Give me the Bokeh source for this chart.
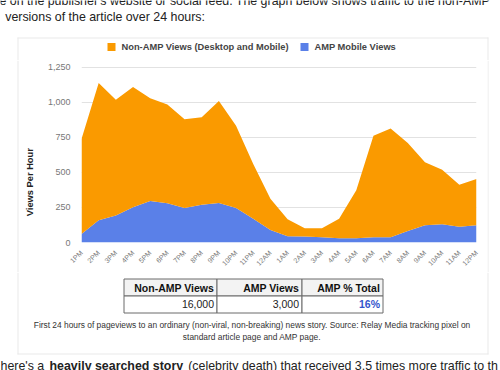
import math
from bokeh.plotting import figure
from bokeh.layouts import column, row
from bokeh.models import ColumnDataSource, Range1d, FixedTicker, NumeralTickFormatter
from bokeh.core.properties import value
from bokeh.embed import file_html
from bokeh.resources import INLINE

# ---------------- data ----------------
hours = ["1PM", "2PM", "3PM", "4PM", "5PM", "6PM", "7PM", "8PM", "9PM", "10PM", "11PM",
         "12AM", "1AM", "2AM", "3AM", "4AM", "5AM", "6AM", "7AM", "8AM", "9AM", "10AM",
         "11AM", "12PM"]
amp_views = [60, 159, 193, 251, 297, 281, 246, 269, 283, 246, 170, 90,
             44, 42, 37, 30, 30, 37, 37, 83, 124, 131, 113, 124]
non_amp_views = [680, 981, 827, 859, 733, 704, 634, 626, 727, 587, 390, 223,
                 122, 59, 64, 140, 343, 725, 778, 628, 449, 389, 299, 329]
y_ticks = [0, 250, 500, 750, 1000, 1250]
series_names = ["Non-AMP Views (Desktop and Mobile)", "AMP Mobile Views"]
y_title = "Views Per Hour"

table_headers = ["Non-AMP Views", "AMP Views", "AMP % Total"]
table_values = ["16,000", "3,000", "16%"]

caption_lines = ["First 24 hours of pageviews to an ordinary (non-viral, non-breaking) news "
                 "story. Source: Relay Media tracking pixel on",
                 "standard article page and AMP page."]
intro_lines = ["e on the publisher's website or social feed. The graph below shows traffic "
               "to the non-AMP",
               "versions of the article over 24 hours:"]
outro_parts = ["here's a", "heavily searched story",
               "(celebrity death) that received 3.5 times more traffic to th"]

ORANGE = "#fa9a00"
BLUE = "#5a80e8"
FONT = "Liberation Sans"
PANEL = "#e9e9e9"


# ------------- helper: a figure whose frame is plain page pixels -------------
class Pix:
    def __init__(self, x0, y0, w, h):
        self.x0, self.y0, self.w, self.h = x0, y0, w, h
        f = figure(width=w, height=h, output_backend="svg", toolbar_location=None,
                   x_range=Range1d(x0, x0 + w), y_range=Range1d(0, h), min_border=0,
                   x_axis_type=None, y_axis_type=None, frame_align=False)
        f.outline_line_color = None
        f.background_fill_color = "white"
        f.border_fill_color = "white"
        self.f = f

    def Y(self, py):
        return self.y0 + self.h - py

    def text(self, px, py, t, size, color="#222222", style="normal", align="left",
             baseline="alphabetic", angle=0.0):
        if baseline == "alphabetic":
            py = py - 0.27 * size  # renderer draws the baseline slightly low
        self.f.text(x=[px], y=[self.Y(py)], text=[t], text_font=value(FONT),
                    text_font_size=value(f"{size}px"), text_color=color,
                    text_font_style=style, text_align=align, text_baseline=baseline,
                    angle=angle)

    def hline(self, xa, xb, py, color=PANEL):
        self.f.segment(x0=[xa], y0=[self.Y(py)], x1=[xb], y1=[self.Y(py)],
                       line_color=color, line_width=1)

    def vline(self, px, ya, yb, color=PANEL):
        self.f.segment(x0=[px], y0=[self.Y(ya)], x1=[px], y1=[self.Y(yb)],
                       line_color=color, line_width=1)

    def box(self, l, t, r, b, fill=None, line=None):
        self.f.quad(left=[l], right=[r], top=[self.Y(t)], bottom=[self.Y(b)],
                    fill_color=fill, fill_alpha=1 if fill else 0,
                    line_color=line, line_width=1 if line else 0)


# ---------------- head: article text, panel top, legend ----------------
head = Pix(0, 0, 500, 60)
head.text(-1, 3.5, intro_lines[0], 12.4)
head.text(4.7, 19.5, intro_lines[1], 12.4)
head.hline(17, 488, 37.5)
head.vline(17.5, 37, 60)
head.vline(487.5, 37, 60)
head.box(107, 42.5, 115, 50.5, fill=ORANGE)
head.text(121, 46.5, series_names[0], 9.3, color="#444444", style="bold", baseline="middle")
head.box(300, 42.5, 308, 50.5, fill=BLUE)
head.text(314, 46.5, series_names[1], 9.3, color="#444444", style="bold", baseline="middle")

# ---------------- chart row ----------------
CH_Y0, CH_H = 60, 212
left = Pix(0, CH_Y0, 40, CH_H)
left.vline(17.5, CH_Y0, CH_Y0 + CH_H)
left.text(29.3, 181.7, y_title, 9.3, color="#222222", style="bold", align="center",
          baseline="middle", angle=math.pi / 2)

right = Pix(487, CH_Y0, 13, CH_H)
right.vline(487.5, CH_Y0, CH_Y0 + CH_H)

src = ColumnDataSource(dict(x=list(range(len(hours))), amp=amp_views, nonamp=non_amp_views))
CW = 447
p = figure(width=CW, height=CH_H, output_backend="svg", toolbar_location=None,
           x_range=Range1d(0, len(hours) - 1), y_range=Range1d(0, 1257),
           min_border_left=41, min_border_right=11, min_border_top=6,
           min_border_bottom=24, frame_align=False)
p.background_fill_color = "white"
p.border_fill_color = "white"
p.outline_line_color = None
p.varea_stack(["amp", "nonamp"], x="x", color=[BLUE, ORANGE], source=src)

p.yaxis.ticker = FixedTicker(ticks=y_ticks)
p.yaxis.formatter = NumeralTickFormatter(format="0,0")
p.yaxis.axis_line_color = None
p.yaxis.major_tick_line_color = None
p.yaxis.minor_tick_line_color = None
p.yaxis.major_label_text_font = FONT
p.yaxis.major_label_text_font_size = "9px"
p.yaxis.major_label_text_color = "#777777"
p.yaxis.major_label_standoff = 5

p.xaxis.ticker = FixedTicker(ticks=list(range(len(hours))))
p.xaxis.major_label_overrides = {i: h for i, h in enumerate(hours)}
p.xaxis.major_label_orientation = math.pi / 4
p.xaxis.axis_line_color = None
p.xaxis.major_tick_line_color = None
p.xaxis.minor_tick_line_color = None
p.xaxis.major_label_text_font = FONT
p.xaxis.major_label_text_font_size = "7px"
p.xaxis.major_label_text_color = "#777777"
p.xaxis.major_label_standoff = 3

p.xgrid.grid_line_color = None
p.ygrid.grid_line_color = "#e2e2e2"

# ---------------- foot: table, caption, panel bottom, article text ----------------
foot = Pix(0, CH_Y0 + CH_H, 500, 370 - CH_Y0 - CH_H)
F0 = CH_Y0 + CH_H
foot.vline(17.5, F0, 354)
foot.vline(487.5, F0, 354)
foot.hline(17, 488, 353.5)

col_edges = [123.5, 216.5, 301.5, 382.5]
row_edges = [278.5, 295.5, 312.5]
for i, (head_txt, val) in enumerate(zip(table_headers, table_values)):
    l, r = col_edges[i], col_edges[i + 1]
    foot.box(l, row_edges[0], r, row_edges[1], fill="#f3f3f3", line="#6a6a6a")
    foot.box(l, row_edges[1], r, row_edges[2], fill="white", line="#6a6a6a")
    foot.text(r - 3, 290, head_txt, 10.5, color="#111111", style="bold", align="right")
    pct = val.endswith("%")
    foot.text(r - 3, 306.5, val, 10.5, color="#3355cc" if pct else "#222222",
              style="bold" if pct else "normal", align="right")

foot.text(251.5, 326.7, caption_lines[0], 8.4, color="#333333", align="center")
foot.text(251.5, 339, caption_lines[1], 8.4, color="#333333", align="center")

foot.text(0, 369, outro_parts[0], 12.4)
foot.text(49, 369, outro_parts[1], 12.4, style="bold")
foot.text(187.7, 369, outro_parts[2], 12.4)

layout = column(head.f, row(left.f, p, right.f, spacing=0), foot.f, spacing=0)
open("out.html", "w").write(file_html(layout, INLINE))
